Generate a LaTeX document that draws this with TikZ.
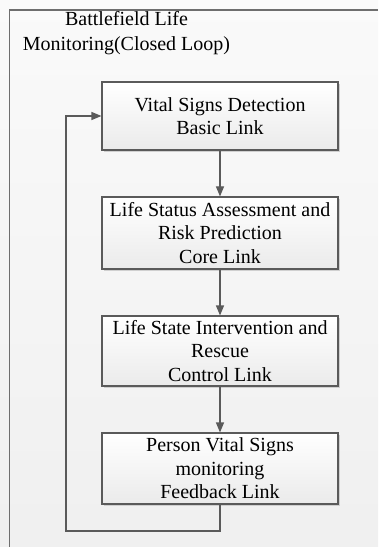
\documentclass[tikz,border=0pt]{standalone}
\usepackage{fontspec}
\setmainfont{Liberation Serif}
\usetikzlibrary{arrows.meta,shadows}
\definecolor{linegray}{HTML}{5A5A5A}
\definecolor{framegray}{HTML}{6E6E6E}
\tikzset{
  x=1bp, y=-1bp,
  linkbox/.style={draw=linegray, line width=1.1bp, minimum width=236bp,
    minimum height=70bp, inner sep=0pt, align=center,
    top color=white, bottom color=black!8,
    drop shadow={shadow xshift=1.6bp, shadow yshift=-1.6bp, fill=black!22, opacity=0.8},
    font=\fontsize{20bp}{23.5bp}\selectfont},
  flow/.style={draw=linegray, line width=1.1bp,
    -{Triangle[length=10bp,width=8bp]}},
}
\begin{document}
\begin{tikzpicture}
  % page background and frame
  \useasboundingbox (0,0) rectangle (378,547);
  \fill[top color=black!2, bottom color=black!6] (0,0) rectangle (378,547);
  \draw[framegray, line width=1.1bp] (9.5,547) -- (9.5,10) -- (378,10);

  % title
  \node[align=center, font=\fontsize{20bp}{24.5bp}\selectfont] (title) at (126.5,33)
    {Battlefield Life\\Monitoring(Closed Loop)};

  % the four links of the loop
  \node[linkbox, minimum height=68bp] (detect) at (220,116)
    {Vital Signs Detection\\Basic Link};
  \node[linkbox, minimum height=72bp] (assess) at (220,233)
    {Life Status Assessment and\\Risk Prediction\\Core Link};
  \node[linkbox, minimum height=70bp] (rescue) at (220,351)
    {Life State Intervention and\\Rescue\\Control Link};
  \node[linkbox, minimum height=71bp] (monitor) at (220,468.5)
    {Person Vital Signs\\monitoring\\Feedback Link};

  % forward connections
  \draw[flow] (detect) -- (assess);
  \draw[flow] (assess) -- (rescue);
  \draw[flow] (rescue) -- (monitor);

  % feedback back to the first link
  \coordinate (fbl) at (66,531);
  \draw[flow] (monitor.south) |- (fbl) |- (detect.west);
\end{tikzpicture}
\end{document}
